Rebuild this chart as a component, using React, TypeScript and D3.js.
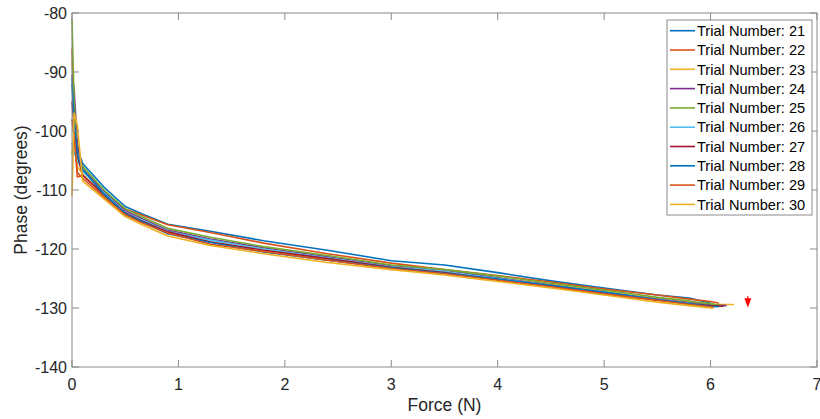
import React from "react";
import * as d3 from "d3";

const trialNames = ["21", "22", "23", "24", "25", "26", "27", "28", "29", "30"];
const colors = ["#0072BD", "#D95319", "#EDB120", "#7E2F8E", "#77AC30", "#4DBEEE", "#A2142F", "#0072BD", "#D95319", "#EDB120"];

const forceGrid = [0, 0.02, 0.05, 0.1, 0.3, 0.5, 0.65, 0.9, 1.3, 1.8, 2.4, 3.0, 3.5, 4.0, 4.5, 5.0, 5.5, 5.8, 6.0];

const phase21 = [-91, -97, -103, -105.5, -109.5, -112.8, -114.0, -115.8, -117.0, -118.6, -120.2, -122.0, -122.7, -124.0, -125.4, -126.6, -127.8, -128.3, -129.2];
const phase22 = [-86, -100, -107.8, -107.5, -110.5, -113.2, -114.2, -115.9, -117.2, -119.0, -120.8, -122.4, -123.5, -124.5, -125.6, -126.8, -127.8, -128.5, -128.9];
const phase23 = [-104, -100, -106, -107.3, -111, -114.0, -115.2, -117.2, -118.8, -120.2, -121.8, -123.0, -124.0, -125.0, -126.0, -127.2, -128.5, -129.0, -129.4];
const phase24 = [-90.5, -93, -102, -106.5, -110.2, -113.5, -114.8, -116.8, -118.3, -119.8, -121.3, -122.8, -123.6, -124.9, -126.1, -127.4, -128.5, -129.1, -129.5];
const phase25 = [-81, -95, -104.5, -106, -110, -113.2, -114.5, -116.5, -118.0, -119.6, -121.1, -122.7, -123.5, -124.6, -125.8, -127.0, -128.2, -128.8, -129.3];
const phase26 = [-102, -103.7, -105, -106.8, -110.5, -113.8, -115.0, -117.0, -118.5, -120.0, -121.5, -123.0, -123.8, -125.0, -126.2, -127.3, -128.6, -129.2, -129.6];
const phase27 = [-95, -99, -104, -107.5, -110.8, -113.9, -115.2, -117.1, -118.8, -120.2, -121.6, -123.1, -124.0, -125.2, -126.3, -127.6, -128.7, -129.3, -129.6];
const phase28 = [-92, -98, -104, -106.5, -110.7, -114.0, -115.3, -117.4, -118.9, -120.5, -121.9, -123.2, -124.1, -125.1, -126.2, -127.3, -128.6, -129.3, -129.7];
const phase29 = [-98, -101, -107, -108.0, -111.2, -114.2, -115.5, -117.3, -119.2, -120.4, -121.9, -123.3, -124.2, -125.3, -126.4, -127.6, -128.7, -129.4, -129.8];
const phase30 = [-111, -97, -99, -108.5, -111.5, -114.5, -115.8, -117.8, -119.4, -120.8, -122.3, -123.5, -124.4, -125.5, -126.6, -127.8, -129.0, -129.6, -130.0];

const endForce = [6.05, 6.08, 6.22, 6.15, 6.1, 6.05, 6.12, 6.08, 6.03, 6.02];
const endPhase = [-129.6, -129.2, -129.4, -129.6, -129.6, -129.8, -129.7, -129.8, -129.9, -130.1];

const phases = [phase21, phase22, phase23, phase24, phase25, phase26, phase27, phase28, phase29, phase30];

const xTicks = [0, 1, 2, 3, 4, 5, 6, 7];
const yTicks = [-80, -90, -100, -110, -120, -130, -140];

const arrowForce = 6.35;
const arrowTop = -128.0;
const arrowTip = -129.9;

export default function App() {
  const W = 820, H = 419;
  const L = 72, R = 817, T = 13, B = 367;
  const x = d3.scaleLinear().domain([0, 7]).range([L, R]);
  const y = d3.scaleLinear().domain([-140, -80]).range([B, T]);
  const line = d3.line<[number, number]>().x(d => x(d[0])).y(d => y(d[1]));
  const axisColor = "#8a8a8a";
  const textColor = "#262626";
  const font = "'Liberation Sans', Arial, Helvetica, sans-serif";
  const tick = 7;

  const series = phases.map((p, i) => {
    const pts: [number, number][] = forceGrid.map((f, j) => [f, p[j]]);
    pts.push([endForce[i], endPhase[i]]);
    return pts;
  });

  const legX = 667, legY = 20, legW = 145, legH = 195;
  const rowH = 19.3;

  const ax = x(arrowForce), ayTop = y(arrowTop), ayTip = y(arrowTip);

  return (
    <svg width={W} height={H} style={{ position: "absolute", left: 0, top: 0, background: "#fff" }}>
      <rect x={0} y={0} width={W} height={H} fill="#fff" />
      <g>
        {series.map((pts, i) => (
          <path key={i} d={line(pts) || ""} fill="none" stroke={colors[i]} strokeWidth={1.6} strokeLinejoin="round" />
        ))}
      </g>
      <line x1={ax} x2={ax} y1={ayTop} y2={ayTip - 2} stroke="#ff0000" strokeWidth={1.2} />
      <path d={`M${ax - 3.5},${ayTop + 2} L${ax + 3.5},${ayTop + 2} L${ax},${ayTip} Z`} fill="#ff0000" />
      <rect x={L} y={T} width={R - L} height={B - T} fill="none" stroke={axisColor} strokeWidth={1} />
      {xTicks.map(t => (
        <g key={"x" + t}>
          <line x1={x(t)} x2={x(t)} y1={B} y2={B - tick} stroke={axisColor} />
          <line x1={x(t)} x2={x(t)} y1={T} y2={T + tick} stroke={axisColor} />
          <text x={x(t)} y={B + 23} textAnchor="middle" fontSize={16} fontFamily={font} fill={textColor}>{t}</text>
        </g>
      ))}
      {yTicks.map(t => (
        <g key={"y" + t}>
          <line x1={L} x2={L + tick} y1={y(t)} y2={y(t)} stroke={axisColor} />
          <line x1={R} x2={R - tick} y1={y(t)} y2={y(t)} stroke={axisColor} />
          <text x={L - 5} y={y(t)} dy="0.36em" textAnchor="end" fontSize={16} fontFamily={font} fill={textColor}>{t}</text>
        </g>
      ))}
      <text x={(L + R) / 2} y={410.5} textAnchor="middle" fontSize={17.5} fontFamily={font} fill={textColor}>Force (N)</text>
      <text transform={`translate(27,${(T + B) / 2}) rotate(-90)`} textAnchor="middle" fontSize={17.5} fontFamily={font} fill={textColor}>Phase (degrees)</text>
      <rect x={legX} y={legY} width={legW} height={legH} fill="#fff" stroke={axisColor} strokeWidth={1} />
      {trialNames.map((n, i) => {
        const cy = legY + 10.7 + i * rowH;
        return (
          <g key={"l" + n}>
            <line x1={legX + 3} x2={legX + 28} y1={cy} y2={cy} stroke={colors[i]} strokeWidth={1.6} />
            <text x={legX + 30} y={cy} dy="0.36em" fontSize={14.6} fontFamily={font} fill="#000">{`Trial Number: ${n}`}</text>
          </g>
        );
      })}
    </svg>
  );
}
